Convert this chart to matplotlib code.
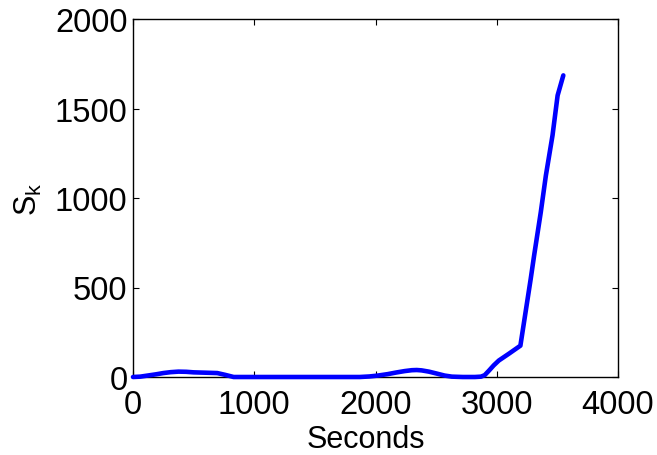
import matplotlib.pyplot as plt

# time (s) and S_k samples along the curve
seconds = [0, 60, 120, 190, 250, 310, 375, 440, 500, 600, 695, 760, 830,
           1000, 1500, 1870, 1950, 2020, 2100, 2170, 2240, 2300, 2340, 2380,
           2440, 2500, 2570, 2630, 2720, 2820, 2870, 2900, 2935, 2975,
           3017, 3100, 3195, 3280, 3308, 3363, 3405, 3460, 3502, 3549]
s_k = [0, 2, 8, 15, 22, 27, 30, 29, 26, 24, 22, 12, 0,
       0, 0, 0, 3, 8, 16, 25, 33, 38, 39, 37,
       30, 20, 8, 2, 0, 0, 2, 10, 35, 65,
       92, 130, 175, 548, 678, 920, 1125, 1350, 1573, 1685]

x_ticks = [0, 1000, 2000, 3000, 4000]
y_ticks = [0, 500, 1000, 1500, 2000]

plt.rcParams['font.family'] = ['Liberation Sans', 'DejaVu Sans']

fig = plt.figure(figsize=(6.57, 4.56), dpi=100)
ax = fig.add_axes([133 / 657, 1 - 378 / 456, 485 / 657, 358 / 456])

ax.plot(seconds, s_k, color='#0000ff', linewidth=3.3, solid_joinstyle='round',
        solid_capstyle='round', clip_on=False, zorder=3)

ax.set_xlim(0, 4000)
ax.set_ylim(0, 2000)
ax.set_xticks(x_ticks)
ax.set_yticks(y_ticks)
ax.tick_params(direction='in', length=4, width=0.8, labelsize=23.5,
               top=True, right=True)
ax.tick_params(axis='x', pad=9)
ax.tick_params(axis='y', pad=4)
for sp in ax.spines.values():
    sp.set_linewidth(1.0)

ax.set_xlabel('Seconds', fontsize=22, labelpad=2)
ax.xaxis.set_label_coords(0.48, -0.13)
ax.set_ylabel('$\\mathregular{S_k}$', fontsize=22, labelpad=8)

fig.savefig('out.png', dpi=100)
